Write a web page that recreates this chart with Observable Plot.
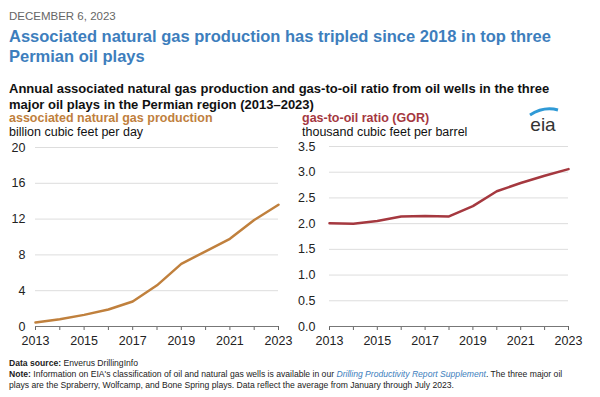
<!DOCTYPE html>
<html><head><meta charset="utf-8">
<script src="https://cdn.jsdelivr.net/npm/d3@7"></script>
<script src="https://cdn.jsdelivr.net/npm/@observablehq/plot@0.6"></script>
<style>
body{margin:0;width:600px;height:397px;background:#fff;font-family:"Liberation Sans",Arial,sans-serif;position:relative;overflow:hidden}
.t{position:absolute;white-space:nowrap}
#date{left:9px;top:10px;font-size:11.5px;color:#666}
#title{left:9px;top:26px;font-size:16.5px;font-weight:bold;color:#3d7ebd;line-height:20px}
#sub{left:9px;top:81px;font-size:13px;font-weight:bold;color:#111;line-height:16px}
.lab{font-size:12.5px;line-height:14px}
#l1{left:9px;top:111px;color:#c0803d;font-weight:bold}
#u1{left:9px;top:125px;color:#111}
#l2{left:302px;top:111px;color:#a5383f;font-weight:bold}
#u2{left:302px;top:125px;color:#111}
#foot{left:9px;top:358px;font-size:8.6px;color:#222;line-height:11px}
#foot a{color:#3d7ebd;font-style:italic;text-decoration:none}
#p1{position:absolute;left:0;top:140px}
#p2{position:absolute;left:290px;top:140px}
#logo{position:absolute;left:526px;top:104px}
</style></head><body>
<div class="t" id="date">DECEMBER 6, 2023</div>
<div class="t" id="title">Associated natural gas production has tripled since 2018 in top three<br>Permian oil plays</div>
<div class="t" id="sub">Annual associated natural gas production and gas-to-oil ratio from oil wells in the three<br>major oil plays in the Permian region (2013–2023)</div>
<div class="t lab" id="l1">associated natural gas production</div>
<div class="t lab" id="u1">billion cubic feet per day</div>
<div class="t lab" id="l2">gas-to-oil ratio (GOR)</div>
<div class="t lab" id="u2">thousand cubic feet per barrel</div>
<svg id="logo" width="36" height="30" viewBox="0 0 36 30">
<path d="M4 11 Q18 2 32 6" fill="none" stroke="#2f9ad6" stroke-width="3"/>
<text x="17" y="27" text-anchor="middle" font-family="Liberation Sans, Arial" font-size="19" fill="#333">eia</text>
</svg>
<div id="p1"></div>
<div id="p2"></div>
<div class="t" id="foot"><b>Data source:</b> Enverus DrillingInfo<br><b>Note:</b> Information on EIA's classification of oil and natural gas wells is available in our <a>Drilling Productivity Report Supplement</a>. The three major oil<br>plays are the Spraberry, Wolfcamp, and Bone Spring plays. Data reflect the average from January through July 2023.</div>
<script>
const years = [2013,2014,2015,2016,2017,2018,2019,2020,2021,2022,2023];
const gasProduction = [0.45,0.8,1.3,1.9,2.8,4.6,7.0,8.4,9.8,11.9,13.6];
const gor = [2.01,2.0,2.05,2.14,2.15,2.14,2.34,2.63,2.79,2.93,3.06];
const gasTicks = [0,4,8,12,16,20];
const gorTicks = [0,0.5,1,1.5,2,2.5,3,3.5];

function chart(values, color, yDomain, yTicks, yFmt, w, ml, mr, mt){
  const data = years.map((y,i)=>({year:y, value:values[i]}));
  return Plot.plot({
    width:w, height:215, marginLeft:ml, marginRight:mr, marginTop:mt, marginBottom:29,
    style:{fontFamily:"Liberation Sans, Arial, sans-serif", fontSize:"12.5px", color:"#222", background:"transparent"},
    x:{domain:[2013,2023]},
    y:{domain:yDomain},
    marks:[
      Plot.gridY(yTicks,{stroke:"#ddd", strokeOpacity:1, strokeWidth:1}),
      Plot.axisY({ticks:yTicks, tickFormat:yFmt, tickSize:0, tickPadding:ml-25, label:null, fontSize:12.5, textAnchor:"end"}),
      Plot.axisX({ticks:years, tickFormat:d=> d%2 ? String(d) : "", tickSize:4, tickPadding:6, label:null, stroke:"#666", fontSize:12.5}),
      Plot.ruleY([yDomain[0]],{stroke:"#777", strokeWidth:1}),
      Plot.line(data,{x:"year", y:"value", stroke:color, strokeWidth:2.5})
    ]
  });
}
document.getElementById("p1").append(chart(gasProduction,"#c0803d",[0,20],gasTicks,d=>String(d),300,35,22,7));
document.getElementById("p2").append(chart(gor,"#a5383f",[0,3.5],gorTicks,d=>d.toFixed(1),310,39,32,6));
</script>
</body></html>
